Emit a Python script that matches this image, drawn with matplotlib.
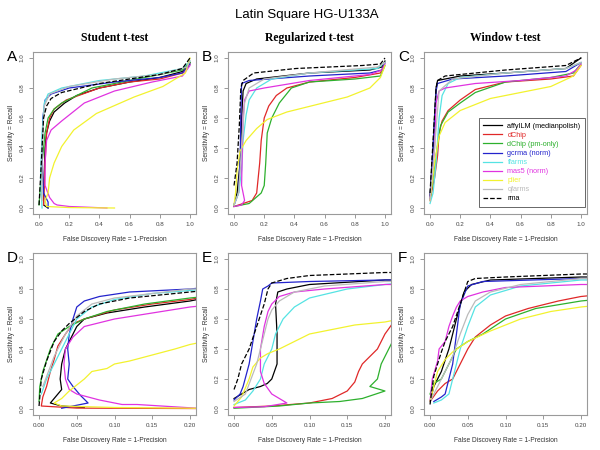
import matplotlib
matplotlib.use("Agg")
import matplotlib.pyplot as plt

plt.rcParams['font.family'] = ['Liberation Sans', 'DejaVu Sans']

methods = ["affyILM (medianpolish)", "dChip", "dChip (pm-only)", "gcrma (norm)",
           "ffarms", "mas5 (norm)", "plier", "qfarms", "rma"]
colors = ["#000000", "#E02828", "#2DB02D", "#2323CC", "#55E3E3",
          "#E033E0", "#F2F22E", "#BBBBBB", "#000000"]
styles = ["-", "-", "-", "-", "-", "-", "-", "-", "--"]

tests = ["Student t-test", "Regularized t-test", "Window t-test"]
letters = ["A", "B", "C", "D", "E", "F"]

# ---- panel A : Student t-test, full range
a_affy = [(0.06, 0.0), (0.03, 0.02), (0.03, 0.1), (0.04, 0.4), (0.05, 0.5), (0.07, 0.58), (0.1, 0.64),
          (0.17, 0.7), (0.25, 0.75), (0.4, 0.8), (0.6, 0.84), (0.8, 0.87), (0.95, 0.91), (1.0, 0.97)]
a_dchip = [(0.03, 0.02), (0.04, 0.3), (0.05, 0.5), (0.07, 0.6), (0.1, 0.66), (0.18, 0.72), (0.4, 0.8),
           (0.6, 0.84), (0.8, 0.86), (0.95, 0.9), (1.0, 0.96)]
a_dchip_pm = [(0.0, 0.02), (0.02, 0.3), (0.04, 0.5), (0.06, 0.6), (0.1, 0.66), (0.15, 0.7), (0.35, 0.8),
              (0.7, 0.87), (0.95, 0.92), (1.0, 0.97)]
a_gcrma = [(0.06, 0.0), (0.06, 0.04), (0.03, 0.1), (0.02, 0.3), (0.025, 0.6), (0.04, 0.72), (0.08, 0.76),
           (0.2, 0.8), (0.5, 0.84), (0.8, 0.87), (0.95, 0.9), (1.0, 0.96)]
a_ffarms = [(0.02, 0.0), (0.01, 0.2), (0.02, 0.5), (0.035, 0.7), (0.06, 0.76), (0.15, 0.8), (0.4, 0.85),
            (0.7, 0.88), (0.95, 0.93), (1.0, 0.98)]
a_mas5 = [(0.45, 0.0), (0.2, 0.01), (0.12, 0.02), (0.1, 0.03), (0.07, 0.07), (0.04, 0.15), (0.04, 0.3),
          (0.05, 0.45), (0.08, 0.52), (0.15, 0.58), (0.2, 0.62), (0.3, 0.7), (0.5, 0.78), (0.75, 0.84),
          (0.95, 0.88), (1.0, 0.95)]
a_plier = [(0.5, 0.0), (0.2, 0.003), (0.05, 0.01), (0.04, 0.05), (0.06, 0.1), (0.07, 0.2), (0.1, 0.3),
           (0.15, 0.41), (0.23, 0.52), (0.38, 0.63), (0.63, 0.74), (0.82, 0.81), (0.97, 0.9), (1.0, 1.0)]
a_qfarms = [(0.02, 0.05), (0.02, 0.4), (0.035, 0.68), (0.07, 0.76), (0.2, 0.81), (0.5, 0.86),
            (0.8, 0.89), (0.98, 0.94), (1.0, 0.98)]
a_rma = [(0.0, 0.02), (0.015, 0.3), (0.03, 0.6), (0.05, 0.68), (0.08, 0.73), (0.15, 0.77), (0.4, 0.83),
         (0.8, 0.89), (0.95, 0.93), (1.0, 1.0)]

# ---- panel B : Regularized t-test, full range
b_affy = [(0.0, 0.02), (0.02, 0.1), (0.04, 0.3), (0.05, 0.6), (0.06, 0.78), (0.08, 0.83), (0.15, 0.86),
          (0.5, 0.9), (0.9, 0.92), (0.98, 0.94), (1.0, 0.98)]
b_dchip = [(0.0, 0.01), (0.12, 0.05), (0.15, 0.1), (0.17, 0.3), (0.18, 0.45), (0.2, 0.6), (0.23, 0.68),
           (0.28, 0.75), (0.35, 0.8), (0.5, 0.84), (0.8, 0.87), (0.97, 0.9), (1.0, 0.97)]
b_dchip_pm = [(0.0, 0.01), (0.1, 0.03), (0.18, 0.1), (0.2, 0.15), (0.21, 0.3), (0.22, 0.5), (0.25, 0.6),
              (0.3, 0.7), (0.38, 0.8), (0.5, 0.84), (0.8, 0.86), (0.97, 0.88), (1.0, 0.95)]
b_gcrma = [(0.0, 0.02), (0.03, 0.1), (0.04, 0.3), (0.045, 0.6), (0.05, 0.83), (0.1, 0.85), (0.5, 0.88),
           (0.9, 0.9), (0.98, 0.92), (1.0, 0.97)]
b_ffarms = [(0.0, 0.02), (0.03, 0.1), (0.05, 0.25), (0.06, 0.45), (0.08, 0.62), (0.1, 0.72), (0.15, 0.8),
            (0.25, 0.86), (0.5, 0.9), (0.95, 0.93), (1.0, 0.97)]
b_mas5 = [(0.0, 0.01), (0.05, 0.02), (0.07, 0.05), (0.05, 0.15), (0.055, 0.4), (0.06, 0.6), (0.07, 0.72),
          (0.1, 0.78), (0.2, 0.8), (0.5, 0.85), (0.9, 0.89), (0.98, 0.92), (1.0, 0.96)]
b_plier = [(0.0, 0.02), (0.01, 0.1), (0.02, 0.25), (0.04, 0.38), (0.08, 0.45), (0.15, 0.53), (0.22, 0.59),
           (0.35, 0.64), (0.55, 0.69), (0.75, 0.74), (0.9, 0.8), (0.97, 0.87), (1.0, 0.95)]
b_qfarms = [(0.0, 0.02), (0.03, 0.1), (0.05, 0.4), (0.07, 0.7), (0.1, 0.8), (0.2, 0.86), (0.5, 0.9),
            (0.95, 0.94), (1.0, 0.97)]
b_rma = [(0.0, 0.15), (0.02, 0.3), (0.035, 0.55), (0.045, 0.8), (0.06, 0.85), (0.13, 0.9), (0.41, 0.93),
         (0.85, 0.95), (0.97, 0.96), (1.0, 1.0)]

# ---- panel C : Window t-test, full range
c_affy = [(0.0, 0.08), (0.02, 0.4), (0.04, 0.8), (0.05, 0.85), (0.2, 0.88), (0.5, 0.9), (0.9, 0.93),
          (1.0, 1.0)]
c_dchip = [(0.0, 0.05), (0.03, 0.2), (0.05, 0.35), (0.06, 0.5), (0.08, 0.58), (0.12, 0.65), (0.2, 0.72),
           (0.3, 0.79), (0.5, 0.84), (0.8, 0.86), (0.95, 0.88), (1.0, 0.95)]
c_dchip_pm = [(0.0, 0.05), (0.04, 0.35), (0.07, 0.55), (0.12, 0.64), (0.2, 0.7), (0.3, 0.77), (0.5, 0.84),
              (0.8, 0.87), (0.95, 0.9), (1.0, 0.96)]
c_gcrma = [(0.0, 0.06), (0.02, 0.4), (0.04, 0.78), (0.05, 0.83), (0.15, 0.86), (0.5, 0.88), (0.9, 0.91),
           (1.0, 0.97)]
c_ffarms = [(0.0, 0.03), (0.02, 0.1), (0.04, 0.3), (0.06, 0.6), (0.08, 0.75), (0.12, 0.83), (0.2, 0.87),
            (0.5, 0.9), (0.9, 0.93), (1.0, 0.97)]
c_mas5 = [(0.0, 0.05), (0.03, 0.4), (0.04, 0.7), (0.06, 0.78), (0.1, 0.8), (0.3, 0.83), (0.6, 0.85),
          (0.9, 0.88), (0.97, 0.92), (1.0, 0.96)]
c_plier = [(0.0, 0.05), (0.03, 0.3), (0.06, 0.48), (0.1, 0.57), (0.2, 0.65), (0.4, 0.73), (0.6, 0.77),
           (0.8, 0.81), (0.95, 0.88), (1.0, 0.95)]
c_qfarms = [(0.0, 0.05), (0.03, 0.4), (0.06, 0.78), (0.15, 0.86), (0.5, 0.9), (0.9, 0.93), (1.0, 0.97)]
c_rma = [(0.0, 0.1), (0.02, 0.45), (0.04, 0.8), (0.05, 0.85), (0.1, 0.88), (0.5, 0.92), (0.9, 0.95),
         (1.0, 1.0)]

# ---- panel D : Student t-test, FDR <= 0.2
d_affy = [(0.06, 0.01), (0.03, 0.02), (0.015, 0.04), (0.02, 0.07), (0.025, 0.1), (0.03, 0.13),
          (0.028, 0.2), (0.03, 0.3), (0.035, 0.4), (0.045, 0.5), (0.05, 0.55), (0.06, 0.6), (0.09, 0.64),
          (0.14, 0.68), (0.2, 0.72), (0.21, 0.73)]
d_dchip = [(0.21, 0.003), (0.05, 0.006), (0.003, 0.02), (0.005, 0.08), (0.01, 0.15), (0.015, 0.25),
           (0.02, 0.33), (0.025, 0.42), (0.035, 0.5), (0.045, 0.57), (0.06, 0.6), (0.1, 0.66),
           (0.15, 0.7), (0.2, 0.73), (0.21, 0.74)]
d_dchip_pm = [(0.0, 0.05), (0.001, 0.15), (0.005, 0.25), (0.015, 0.4), (0.025, 0.5), (0.04, 0.55),
              (0.06, 0.6), (0.09, 0.65), (0.14, 0.7), (0.2, 0.74), (0.21, 0.745)]
d_gcrma = [(0.03, 0.005), (0.065, 0.04), (0.055, 0.09), (0.045, 0.15), (0.038, 0.2), (0.04, 0.3),
           (0.038, 0.4), (0.04, 0.5), (0.045, 0.6), (0.05, 0.68), (0.06, 0.72), (0.08, 0.75),
           (0.12, 0.78), (0.2, 0.8), (0.21, 0.805)]
d_ffarms = [(0.003, 0.1), (0.01, 0.2), (0.02, 0.3), (0.03, 0.4), (0.04, 0.5), (0.05, 0.6), (0.07, 0.68),
            (0.1, 0.73), (0.15, 0.77), (0.2, 0.79), (0.21, 0.795)]
d_mas5 = [(0.21, 0.005), (0.13, 0.03), (0.11, 0.03), (0.1, 0.04), (0.08, 0.06), (0.05, 0.1),
          (0.04, 0.13), (0.035, 0.2), (0.033, 0.3), (0.035, 0.4), (0.045, 0.48), (0.06, 0.55),
          (0.1, 0.6), (0.15, 0.64), (0.2, 0.68), (0.21, 0.685)]
d_plier = [(0.21, 0.005), (0.1, 0.01), (0.03, 0.02), (0.02, 0.04), (0.03, 0.07), (0.04, 0.12),
           (0.05, 0.16), (0.06, 0.2), (0.07, 0.25), (0.09, 0.27), (0.1, 0.3), (0.12, 0.32),
           (0.15, 0.36), (0.18, 0.4), (0.2, 0.43), (0.21, 0.44)]
d_qfarms = [(0.005, 0.15), (0.02, 0.35), (0.035, 0.5), (0.05, 0.62), (0.07, 0.7), (0.1, 0.74),
            (0.2, 0.8), (0.21, 0.8)]
d_rma = [(0.0, 0.02), (0.003, 0.2), (0.01, 0.32), (0.02, 0.45), (0.03, 0.52), (0.04, 0.57), (0.06, 0.65),
         (0.08, 0.7), (0.12, 0.74), (0.2, 0.78), (0.21, 0.785)]

# ---- panel E : Regularized t-test, FDR <= 0.2
e_affy = [(0.0, 0.07), (0.01, 0.1), (0.02, 0.13), (0.035, 0.15), (0.044, 0.17), (0.05, 0.2),
          (0.057, 0.3), (0.057, 0.5), (0.055, 0.7), (0.058, 0.78), (0.07, 0.8), (0.1, 0.83),
          (0.2, 0.86), (0.21, 0.86)]
e_dchip = [(0.0, 0.01), (0.05, 0.02), (0.1, 0.04), (0.13, 0.07), (0.15, 0.12), (0.16, 0.18),
           (0.165, 0.25), (0.17, 0.3), (0.18, 0.35), (0.19, 0.4), (0.2, 0.5), (0.21, 0.57)]
e_dchip_pm = [(0.0, 0.005), (0.06, 0.02), (0.1, 0.04), (0.14, 0.05), (0.17, 0.07), (0.2, 0.12),
              (0.18, 0.15), (0.19, 0.2), (0.195, 0.3), (0.2, 0.35), (0.205, 0.4), (0.21, 0.45)]
e_gcrma = [(0.0, 0.06), (0.008, 0.1), (0.012, 0.15), (0.02, 0.3), (0.025, 0.45), (0.03, 0.6),
           (0.035, 0.72), (0.038, 0.8), (0.045, 0.82), (0.05, 0.84), (0.1, 0.85), (0.2, 0.86),
           (0.21, 0.86)]
e_ffarms = [(0.0, 0.03), (0.015, 0.06), (0.025, 0.12), (0.035, 0.2), (0.04, 0.3), (0.05, 0.4),
            (0.055, 0.5), (0.065, 0.6), (0.08, 0.68), (0.1, 0.74), (0.15, 0.8), (0.2, 0.83),
            (0.21, 0.835)]
e_mas5 = [(0.0, 0.01), (0.04, 0.015), (0.07, 0.04), (0.06, 0.07), (0.05, 0.1), (0.04, 0.17),
          (0.035, 0.25), (0.035, 0.4), (0.04, 0.55), (0.045, 0.65), (0.05, 0.7), (0.06, 0.75),
          (0.08, 0.78), (0.12, 0.8), (0.2, 0.83), (0.21, 0.83)]
e_plier = [(0.0, 0.02), (0.01, 0.08), (0.02, 0.2), (0.025, 0.28), (0.035, 0.34), (0.045, 0.37),
           (0.06, 0.4), (0.08, 0.45), (0.1, 0.5), (0.13, 0.53), (0.16, 0.56), (0.2, 0.58), (0.21, 0.59)]
e_qfarms = [(0.0, 0.05), (0.015, 0.1), (0.03, 0.3), (0.04, 0.5), (0.045, 0.6), (0.05, 0.66),
            (0.06, 0.72), (0.08, 0.78), (0.12, 0.82), (0.2, 0.85), (0.21, 0.85)]
e_rma = [(0.0, 0.13), (0.005, 0.2), (0.01, 0.3), (0.02, 0.4), (0.03, 0.55), (0.04, 0.7), (0.045, 0.8),
         (0.05, 0.84), (0.07, 0.87), (0.1, 0.89), (0.15, 0.9), (0.2, 0.91), (0.21, 0.91)]

# ---- panel F : Window t-test, FDR <= 0.2
f_affy = [(0.0, 0.05), (0.005, 0.15), (0.015, 0.25), (0.025, 0.4), (0.035, 0.6), (0.045, 0.78),
          (0.055, 0.83), (0.08, 0.86), (0.2, 0.88), (0.21, 0.88)]
f_dchip = [(0.0, 0.05), (0.01, 0.12), (0.02, 0.17), (0.03, 0.2), (0.04, 0.3), (0.05, 0.4), (0.06, 0.48),
           (0.08, 0.56), (0.1, 0.62), (0.13, 0.67), (0.17, 0.72), (0.2, 0.75), (0.21, 0.755)]
f_dchip_pm = [(0.0, 0.1), (0.005, 0.17), (0.015, 0.2), (0.025, 0.3), (0.035, 0.4), (0.05, 0.45),
              (0.07, 0.5), (0.1, 0.6), (0.14, 0.67), (0.2, 0.72), (0.21, 0.725)]
f_gcrma = [(0.005, 0.05), (0.015, 0.08), (0.02, 0.1), (0.025, 0.2), (0.03, 0.3), (0.035, 0.5),
           (0.04, 0.7), (0.05, 0.82), (0.07, 0.85), (0.2, 0.87), (0.21, 0.87)]
f_ffarms = [(0.005, 0.04), (0.015, 0.06), (0.025, 0.1), (0.03, 0.2), (0.035, 0.3), (0.04, 0.4),
            (0.05, 0.55), (0.06, 0.68), (0.08, 0.76), (0.12, 0.82), (0.2, 0.86), (0.21, 0.86)]
f_mas5 = [(0.0, 0.05), (0.003, 0.2), (0.006, 0.25), (0.01, 0.32), (0.012, 0.4), (0.02, 0.45),
          (0.025, 0.55), (0.03, 0.62), (0.035, 0.68), (0.04, 0.72), (0.05, 0.75), (0.07, 0.78),
          (0.1, 0.81), (0.15, 0.82), (0.2, 0.83), (0.21, 0.83)]
f_plier = [(0.0, 0.05), (0.005, 0.15), (0.01, 0.25), (0.02, 0.33), (0.03, 0.38), (0.05, 0.45),
           (0.08, 0.52), (0.12, 0.6), (0.16, 0.65), (0.2, 0.68), (0.21, 0.685)]
f_qfarms = [(0.0, 0.05), (0.01, 0.15), (0.02, 0.25), (0.03, 0.35), (0.04, 0.5), (0.05, 0.63),
            (0.06, 0.72), (0.08, 0.78), (0.12, 0.83), (0.2, 0.87), (0.21, 0.87)]
f_rma = [(0.0, 0.03), (0.003, 0.15), (0.005, 0.22), (0.01, 0.3), (0.015, 0.38), (0.02, 0.45),
         (0.03, 0.55), (0.04, 0.7), (0.05, 0.85), (0.06, 0.87), (0.1, 0.88), (0.2, 0.9), (0.21, 0.9)]

panels = [
    [a_affy, a_dchip, a_dchip_pm, a_gcrma, a_ffarms, a_mas5, a_plier, a_qfarms, a_rma],
    [b_affy, b_dchip, b_dchip_pm, b_gcrma, b_ffarms, b_mas5, b_plier, b_qfarms, b_rma],
    [c_affy, c_dchip, c_dchip_pm, c_gcrma, c_ffarms, c_mas5, c_plier, c_qfarms, c_rma],
    [d_affy, d_dchip, d_dchip_pm, d_gcrma, d_ffarms, d_mas5, d_plier, d_qfarms, d_rma],
    [e_affy, e_dchip, e_dchip_pm, e_gcrma, e_ffarms, e_mas5, e_plier, e_qfarms, e_rma],
    [f_affy, f_dchip, f_dchip_pm, f_gcrma, f_ffarms, f_mas5, f_plier, f_qfarms, f_rma],
]

W, H = 600, 450
fig = plt.figure(figsize=(6, 4.5), dpi=100)
fig.text(307 / W, 1 - 15 / H, "Latin Square HG-U133A", ha="center", va="center", fontsize=9.5)

col_left = [33, 228, 424]
col_w = 163
row_top = [52, 253]
row_h = 162

for i, curves in enumerate(panels):
    r, c = divmod(i, 3)
    ax = fig.add_axes([col_left[c] / W, 1 - (row_top[r] + row_h) / H, col_w / W, row_h / H])
    for k, pts in enumerate(curves):
        xs = [p[0] for p in pts]
        ys = [p[1] for p in pts]
        ax.plot(xs, ys, color=colors[k], ls=styles[k], lw=0.9, label=methods[k])
    if r == 0:
        ax.set_xlim(-0.04, 1.04)
        ax.set_xticks([0, 0.2, 0.4, 0.6, 0.8, 1.0])
        ax.set_xticklabels(["0.0", "0.2", "0.4", "0.6", "0.8", "1.0"])
    else:
        ax.set_xlim(-0.008, 0.208)
        ax.set_xticks([0, 0.05, 0.1, 0.15, 0.2])
        ax.set_xticklabels(["0.00", "0.05", "0.10", "0.15", "0.20"])
    ax.set_ylim(-0.04, 1.04)
    ax.set_yticks([0, 0.2, 0.4, 0.6, 0.8, 1.0])
    ax.set_yticklabels(["0.0", "0.2", "0.4", "0.6", "0.8", "1.0"], rotation=90, va="center")
    ax.tick_params(labelsize=4.5, labelcolor="#444444", color="#888888", length=3, width=0.6, pad=3)
    for s in ax.spines.values():
        s.set_color("#9a9a9a")
        s.set_linewidth(0.8)
    ax.set_xlabel("False Discovery Rate = 1-Precision", fontsize=4.8, color="#333333", labelpad=6)
    ax.set_ylabel("Sensitivity = Recall", fontsize=4.8, color="#333333", va="center")
    ax.yaxis.set_label_coords(-21 / col_w, 0.5)
    fig.text((col_left[c] - 26) / W, 1 - (row_top[r] + 5) / H, letters[i],
             ha="left", va="center", fontsize=11)
    if r == 0:
        fig.text((col_left[c] + col_w / 2) / W, 1 - 38 / H, tests[c], ha="center", va="center",
                 fontsize=8.5, fontweight="bold", family="Liberation Serif")
    if i == 2:
        leg = ax.legend(loc="upper left", bbox_to_anchor=(0.335, 0.59), fontsize=5.2, frameon=True,
                        fancybox=False, edgecolor="#222222", handlelength=2.6, labelspacing=0.28,
                        borderpad=0.6, handletextpad=0.8, borderaxespad=0)
        leg.get_frame().set_linewidth(0.6)
        for t, col in zip(leg.get_texts(), colors):
            t.set_color(col)

fig.savefig("out.png", dpi=100)
